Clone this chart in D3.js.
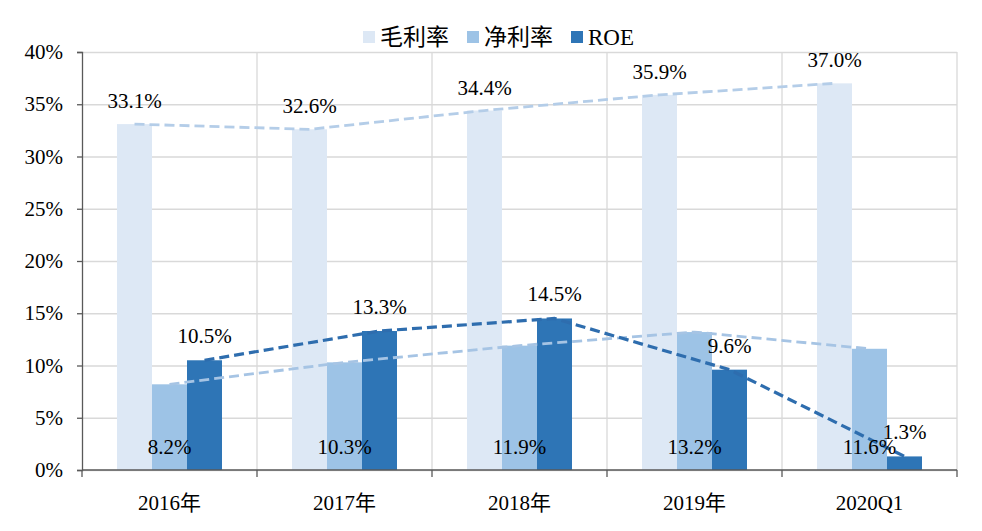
<!DOCTYPE html>
<html>
<head>
<meta charset="utf-8">
<script src="https://cdn.jsdelivr.net/npm/d3@7"></script>
<style>
  html, body { margin: 0; padding: 0; background: #fff; }
  svg text { font-family: "Liberation Serif", "Times New Roman", "Noto Sans CJK SC", serif; fill: #000; }
</style>
</head>
<body>
<svg id="chart" width="982" height="531"></svg>
<script>
const categories = ["2016年", "2017年", "2018年", "2019年", "2020Q1"];
const seriesNames = ["毛利率", "净利率", "ROE"];
const grossMargin = [33.1, 32.6, 34.4, 35.9, 37.0];
const netMargin = [8.2, 10.3, 11.9, 13.2, 11.6];
const roe = [10.5, 13.3, 14.5, 9.6, 1.3];
const yTicks = [0, 5, 10, 15, 20, 25, 30, 35, 40];

const BAR_COLORS = ["#dde8f5", "#9dc3e6", "#2e75b6"];
const LINE_COLORS = ["#b4cde8", "#a6c4e4", "#2e6dae"];

const seriesValues = [grossMargin, netMargin, roe];

const svg = d3.select("#chart");
const plotLeft = 82, plotRight = 957, plotTop = 52, plotBottom = 470;

const x = d3.scaleBand().domain(categories).range([plotLeft, plotRight]);
const xs = d3.scaleBand().domain(seriesNames).range([x.bandwidth() * 0.2, x.bandwidth() * 0.8]);
const y = d3.scaleLinear().domain([0, 40]).range([plotBottom, plotTop]);

// horizontal grid
svg.append("g")
  .attr("transform", `translate(${plotLeft},0)`)
  .call(d3.axisLeft(y).tickValues(yTicks).tickSize(-(plotRight - plotLeft)).tickFormat(""))
  .call(g => g.select(".domain").remove())
  .call(g => g.selectAll("line").attr("stroke", "#d9d9d9").attr("stroke-width", 1.3));

// vertical grid at category boundaries
const bounds = categories.map(c => x(c)).concat([plotRight]);
svg.append("g").selectAll("line")
  .data(bounds.slice(1))
  .join("line")
  .attr("x1", d => d).attr("x2", d => d)
  .attr("y1", plotTop).attr("y2", plotBottom)
  .attr("stroke", "#d9d9d9").attr("stroke-width", 1.3);

// bars
seriesNames.forEach((s, i) => {
  svg.append("g").selectAll("rect")
    .data(seriesValues[i])
    .join("rect")
    .attr("x", (d, j) => x(categories[j]) + xs(s))
    .attr("width", xs.bandwidth())
    .attr("y", d => y(d))
    .attr("height", d => plotBottom - y(d))
    .attr("fill", BAR_COLORS[i]);
});

// dashed trend lines through the bar tops
const line = d3.line();
seriesNames.forEach((s, i) => {
  const pts = seriesValues[i].map((d, j) => [x(categories[j]) + xs(s) + xs.bandwidth() / 2, y(d)]);
  svg.append("path")
    .attr("d", line(pts))
    .attr("fill", "none")
    .attr("stroke", LINE_COLORS[i])
    .attr("stroke-width", i === 2 ? 3.2 : 2.8)
    .attr("stroke-dasharray", "10,5");
});

// y axis
svg.append("g")
  .attr("transform", `translate(${plotLeft},0)`)
  .call(d3.axisLeft(y).tickValues(yTicks).tickSize(5).tickPadding(14).tickFormat(d => d + "%"))
  .call(g => g.select(".domain").attr("stroke", "#595959").attr("stroke-width", 1.3))
  .call(g => g.selectAll(".tick line").attr("stroke", "#595959").attr("stroke-width", 1.3))
  .call(g => g.selectAll("text").attr("font-size", 21).attr("font-family", null).attr("fill", "#000"));

// x axis
svg.append("line")
  .attr("x1", plotLeft).attr("x2", plotRight).attr("y1", plotBottom).attr("y2", plotBottom)
  .attr("stroke", "#595959").attr("stroke-width", 1.3);
svg.append("g").selectAll("line")
  .data(bounds)
  .join("line")
  .attr("x1", d => d).attr("x2", d => d)
  .attr("y1", plotBottom).attr("y2", plotBottom + 7)
  .attr("stroke", "#595959").attr("stroke-width", 1.3);
svg.append("g").selectAll("text")
  .data(categories)
  .join("text")
  .attr("x", d => x(d) + x.bandwidth() / 2)
  .attr("y", 510)
  .attr("text-anchor", "middle")
  .attr("font-size", 21)
  .text(d => d);

// value labels
const labelGroup = svg.append("g").attr("font-size", 21).attr("text-anchor", "middle");
const cx = (s, j) => x(categories[j]) + xs(s) + xs.bandwidth() / 2;
labelGroup.selectAll(".lg")
  .data(grossMargin).join("text").attr("class", "lg")
  .attr("x", (d, j) => cx(seriesNames[0], j))
  .attr("y", d => y(d) - 16)
  .text(d => d.toFixed(1) + "%");
labelGroup.selectAll(".ln")
  .data(netMargin).join("text").attr("class", "ln")
  .attr("x", (d, j) => cx(seriesNames[1], j))
  .attr("y", plotBottom - 16)
  .text(d => d.toFixed(1) + "%");
labelGroup.selectAll(".lr")
  .data(roe).join("text").attr("class", "lr")
  .attr("x", (d, j) => cx(seriesNames[2], j))
  .attr("y", d => y(d) - 17)
  .text(d => d.toFixed(1) + "%");

// legend
const legend = svg.append("g");
let lx = 363;
seriesNames.forEach((s, i) => {
  legend.append("rect")
    .attr("x", lx).attr("y", 31).attr("width", 12).attr("height", 12)
    .attr("fill", BAR_COLORS[i]);
  const t = legend.append("text")
    .attr("x", lx + 17).attr("y", 45)
    .attr("font-size", 23)
    .text(s);
  lx += 17 + t.node().getComputedTextLength() + 18;
});
</script>
</body>
</html>
